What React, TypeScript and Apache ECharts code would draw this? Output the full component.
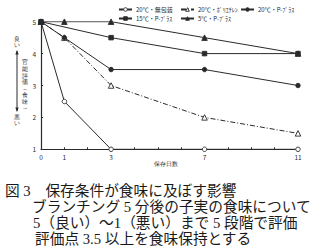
import React, { useEffect, useRef } from "react";
import * as echarts from "echarts";

const days = [0, 1, 3, 7, 11];
const xTickLabels = [0, 1, 3, 7, 11];
const seriesNames = ["20℃・無包装", "20℃・ﾎﾟﾘｴﾁﾚﾝ", "20℃・P-ﾌﾟﾗｽ", "15℃・P-ﾌﾟﾗｽ", "5℃・P-ﾌﾟﾗｽ"];
const noPack20 = [5, 2.5, 1, 1, 1];
const polyethylene20 = [5, 4.5, 3, 2, 1.5];
const pplus20 = [5, 4.5, 3.5, 3.5, 3];
const pplus15 = [5, null, 4.5, 4, 4];
const pplus5 = [5, 5, 5, 4.5, 4];
const captionLines = [
  "図 3　保存条件が食味に及ぼす影響",
  "ブランチング 5 分後の子実の食味について",
  "5（良い）～1（悪い）まで 5 段階で評価",
  "評価点 3.5 以上を食味保持とする",
];

const INK = "#2a2a2a";
const CJK = "'Noto Sans CJK JP', sans-serif";
const CAP = "'Liberation Serif', 'Noto Sans CJK JP', serif";

export default function App() {
  const ref = useRef<HTMLDivElement>(null);
  useEffect(() => {
    document.body.style.margin = "0";
    const chart = echarts.init(ref.current!, null, { renderer: "svg" });
    const openFlags = [true, true, false, false, false];
    const symbols = ["circle", "triangle", "circle", "rect", "triangle"];
    const mk = (i: number, vals: (number | null)[], dashed?: boolean) => ({
      name: seriesNames[i],
      type: "line",
      data: days.map((d, k) => [d, vals[k]]),
      connectNulls: true,
      symbol: symbols[i],
      symbolSize: symbols[i] === "triangle" ? 5.5 : 4.5,
      showAllSymbol: true,
      lineStyle: { color: INK, width: 1, type: dashed ? [5, 2, 1, 2] : "solid" },
      itemStyle: { color: openFlags[i] ? "#fff" : INK, borderColor: INK, borderWidth: 0.9 },
      emphasis: { disabled: true },
    });
    const legendPos = [
      [118, 6.5],
      [180, 6.5],
      [240, 6.5],
      [118, 15.5],
      [180, 15.5],
    ];
    const legends = seriesNames.map((n, i) => ({
      data: [
        {
          name: n,
          itemStyle: { color: openFlags[i] ? "#fff" : INK, borderColor: INK, borderWidth: 0.9 },
        },
      ],
      left: legendPos[i][0],
      top: legendPos[i][1],
      padding: 0,
      itemWidth: 13,
      itemHeight: 4.5,
      itemGap: 0,
      selectedMode: false,
      textStyle: { fontSize: 6, color: INK, fontFamily: CJK, padding: [0, 0, 0, -1] },
    }));
    const captionTops = [190.5, 207, 222.5, 238.5];
    const captionLefts = [5, 32, 33, 35];
    const small = (text: string, x: number, y: number, size: number, lh: number) => ({
      type: "text",
      x,
      y,
      style: {
        text,
        fontSize: size,
        lineHeight: lh,
        fill: INK,
        align: "center",
        font: `bold ${size}px ${CJK}`,
      },
    });
    chart.setOption({
      animation: false,
      backgroundColor: "#fff",
      grid: { left: 41, right: 32, top: 21.7, bottom: 100.7 },
      legend: legends,
      xAxis: {
        type: "value",
        min: 0,
        max: 11,
        interval: 1,
        axisLine: { lineStyle: { color: INK, width: 1.2 } },
        axisTick: { inside: true, length: 2, lineStyle: { color: INK } },
        splitLine: { show: false },
        axisLabel: {
          fontSize: 6.5,
          color: INK,
          fontFamily: CJK,
          margin: 4,
          formatter: (v: number) => (xTickLabels.includes(v) ? String(v) : ""),
        },
      },
      yAxis: {
        type: "value",
        min: 1,
        max: 5,
        interval: 1,
        axisLine: { show: true, lineStyle: { color: INK, width: 1.2 } },
        axisTick: { show: true, inside: true, length: 2, lineStyle: { color: INK } },
        splitLine: { show: false },
        axisLabel: { fontSize: 6.5, color: INK, fontFamily: CJK, margin: 5 },
      },
      series: [
        mk(0, noPack20),
        mk(1, polyethylene20, true),
        mk(2, pplus20),
        mk(3, pplus15),
        mk(4, pplus5),
      ],
      graphic: [
        small("保存日数", 166, 160, 6, 7),
        small("良\nい", 17, 36.5, 5.5, 5.5),
        small("悪\nい", 17, 114.5, 5.5, 5.5),
        small("官\n能\n評\n価\n︵\n食\n味\n︶", 25, 59, 6, 6.6),
        { type: "line", shape: { x1: 17, y1: 51, x2: 17, y2: 111 }, style: { stroke: INK, lineWidth: 1 } },
        { type: "polygon", shape: { points: [[17, 50], [15.3, 54.5], [18.7, 54.5]] }, style: { fill: INK } },
        { type: "polygon", shape: { points: [[17, 112], [15.3, 107.5], [18.7, 107.5]] }, style: { fill: INK } },
        ...captionLines.map((t, i) => ({
          type: "text",
          x: captionLefts[i],
          y: captionTops[i],
          style: { text: t, fill: "#1a1a1a", verticalAlign: "middle", fontSize: 14.7, fontFamily: CAP },
        })),
      ],
    });
    return () => chart.dispose();
  }, []);
  return <div ref={ref} style={{ width: 330, height: 250 }} />;
}
